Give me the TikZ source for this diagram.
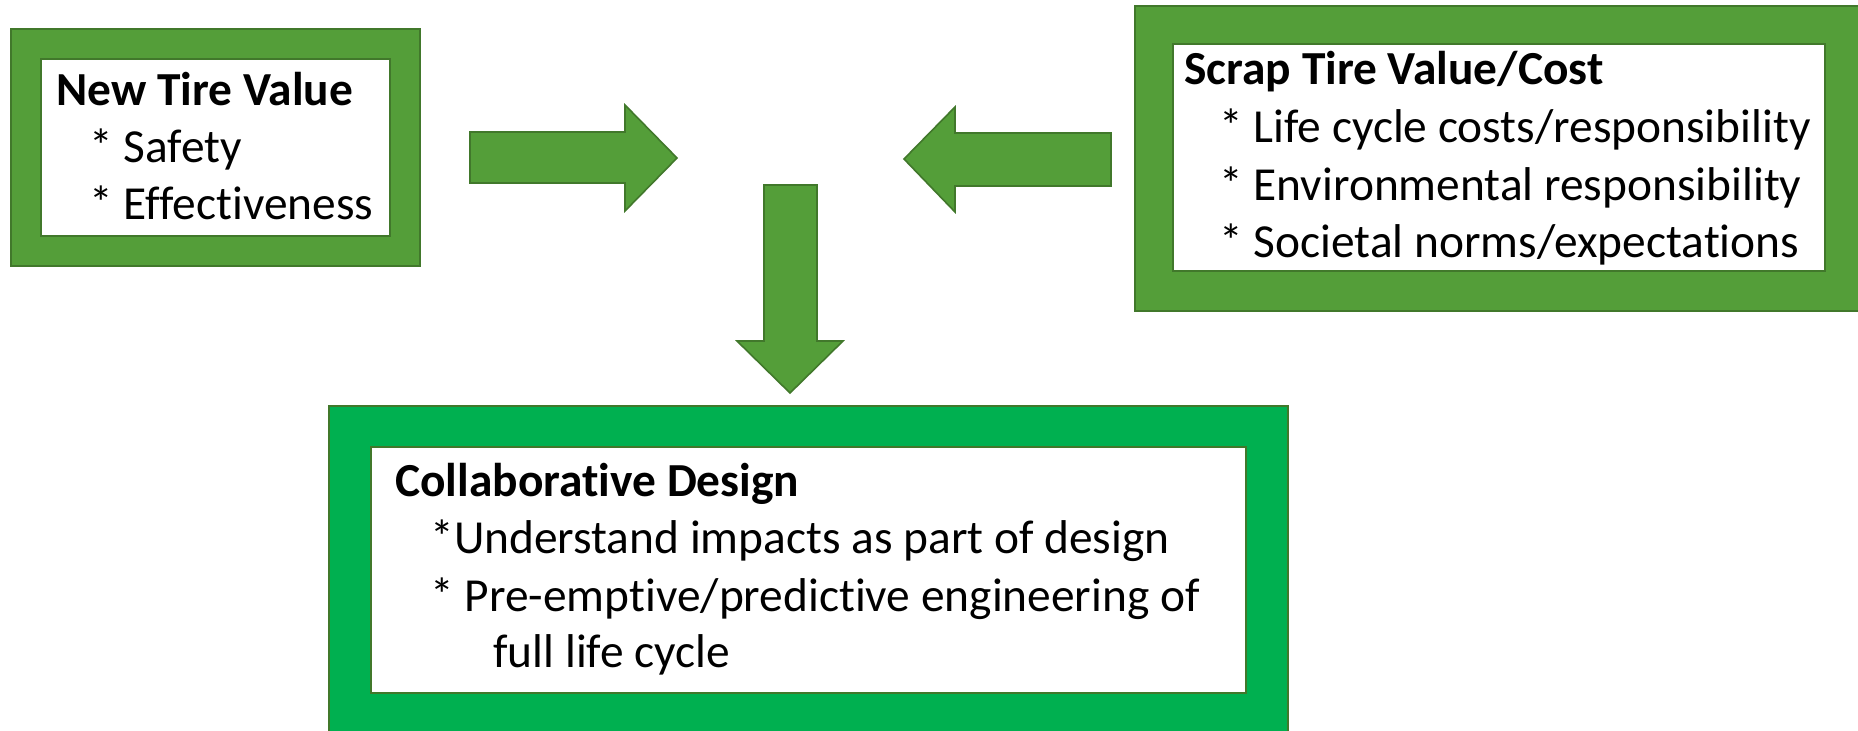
\documentclass[tikz,border=0pt]{standalone}
\usepackage{fontspec}
\setmainfont{Carlito}[Ligatures={NoCommon,NoDiscretionary,NoContextual}]
\definecolor{lgreen}{HTML}{549E39}
\definecolor{dgreen}{HTML}{41782B}
\definecolor{bgreen}{HTML}{00B050}
\tikzset{
  outerbox/.style={fill=lgreen, draw=dgreen, line width=1.2pt},
  outerboxb/.style={fill=bgreen, draw=dgreen, line width=1.2pt},
  innerbox/.style={fill=white, draw=dgreen, line width=1pt},
  arrowshape/.style={fill=lgreen, draw=dgreen, line width=0.8pt, line join=miter},
  txt/.style={anchor=base west, inner sep=0pt, font=\fontsize{23.7}{28}\selectfont},
  ttl/.style={txt, font=\fontsize{23.7}{28}\selectfont\bfseries}
}
\begin{document}
\begin{tikzpicture}[x=0.5pt, y=-0.5pt]
\clip (0,0) rectangle (1858,731);
\fill[white] (0,0) rectangle (1858,731);
% Left box
\draw[outerbox] (11,29) rectangle (420,266);
\draw[innerbox] (41,59) rectangle (390,236);
\node[ttl] (t1) at (56,106) {New Tire Value};
\node[txt] (a1) at (89,163) {* Safety};
\node[txt] (a2) at (89,220) {* Effectiveness};
% Scrap box
\draw[outerbox] (1135,6) rectangle (1870,311);
\draw[innerbox] (1173,44) rectangle (1825,271);
\node[ttl] (t2) at (1184,85) {Scrap Tire Value/Cost};
\node[txt] (b1) at (1219,143) {* Life cycle costs/responsibility};
\node[txt] (b2) at (1219,201) {* Environmental responsibility};
\node[txt] (b3) at (1219,258) {* Societal norms/expectations};
% Bottom box
\draw[outerboxb] (329,406) rectangle (1288,745);
\draw[innerbox] (371,447) rectangle (1246,693);
\node[ttl] (t3) at (395,497) {Collaborative Design};
\node[txt] (c1) at (430,554) {*Understand impacts as part of design};
\node[txt] (c2) at (430,612) {* Pre-emptive/predictive engineering of};
\node[txt] (c3) at (493,668) {full life cycle};
% Arrows
\draw[arrowshape] (470,132) -- (625,132) -- (625,105) -- (677,158) -- (625,211) -- (625,183) -- (470,183) -- cycle;
\draw[arrowshape] (1111,133) -- (955,133) -- (955,107) -- (904,159) -- (955,212) -- (955,186) -- (1111,186) -- cycle;
\draw[arrowshape] (764,185) -- (817,185) -- (817,341) -- (843,341) -- (790,393) -- (737,341) -- (764,341) -- cycle;
\end{tikzpicture}
\end{document}
